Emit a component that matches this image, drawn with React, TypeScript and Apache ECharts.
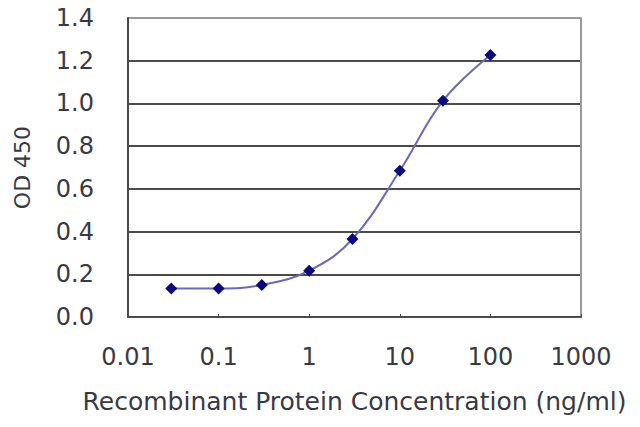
import React, { useEffect, useRef } from "react";
import * as echarts from "echarts";

const concentrations = [0.03, 0.1, 0.3, 1, 3, 10, 30, 100];
const odValues = [0.134, 0.134, 0.15, 0.217, 0.365, 0.685, 1.013, 1.227];
const xTickLabels = ["0.01", "0.1", "1", "10", "100", "1000"];
const yTickLabels = ["0.0", "0.2", "0.4", "0.6", "0.8", "1.0", "1.2", "1.4"];

const FONT = "DejaVu Sans";
const TEXT = "#3a3a44";

export default function App() {
  const ref = useRef<HTMLDivElement>(null);
  useEffect(() => {
    document.body.style.margin = "0";
    const chart = echarts.init(ref.current!, undefined, { renderer: "svg" });
    const gridColors = ["#4a4a4a", "#4a4a4a", "#4a4a4a", "#4a4a4a", "#4a4a4a", "#4a4a4a", "#4a4a4a", "#999"];
    chart.setOption({
      animation: false,
      backgroundColor: "#fff",
      grid: { left: 128, right: 59, top: 18, bottom: 110, outerBoundsMode: "none" },
      xAxis: {
        type: "log",
        logBase: 10,
        min: 0.01,
        max: 1000,
        name: "Recombinant Protein Concentration (ng/ml)",
        nameLocation: "middle",
        nameGap: 72,
        nameTextStyle: { fontFamily: FONT, fontSize: 25, color: TEXT },
        axisLine: { lineStyle: { color: "#4a4a4a", width: 2 } },
        axisTick: { show: true, inside: true, length: 3, lineStyle: { color: "#4a4a4a" } },
        axisLabel: {
          fontFamily: FONT,
          fontSize: 24,
          color: TEXT,
          margin: 28,
          formatter: (v: number) => {
            const i = Math.round(Math.log10(v)) + 2;
            return xTickLabels[i] ?? "";
          },
        },
        splitLine: { show: false },
        minorTick: { show: false },
      },
      yAxis: [
        {
          type: "value",
          min: 0,
          max: 1.4,
          interval: 0.2,
          name: "OD 450",
          nameLocation: "middle",
          nameGap: 95,
          nameTextStyle: { fontFamily: FONT, fontSize: 22, color: TEXT },
          axisLine: { show: true, lineStyle: { color: "#4a4a4a", width: 2 } },
          axisTick: { show: false },
          axisLabel: {
            fontFamily: FONT,
            fontSize: 24,
            color: TEXT,
            margin: 34,
            formatter: (v: number) => yTickLabels[Math.round(v / 0.2)] ?? "",
          },
          splitLine: { show: true, lineStyle: { color: gridColors, width: 2 } },
        },
        {
          type: "value",
          min: 0,
          max: 1.4,
          interval: 0.2,
          position: "right",
          axisLine: { show: true, lineStyle: { color: "#999", width: 2 } },
          axisTick: { show: false },
          axisLabel: { show: false },
          splitLine: { show: false },
        },
      ],
      series: [
        {
          type: "line",
          data: concentrations.map((c, i) => [c, odValues[i]]),
          smooth: 0.4,
          symbol: "diamond",
          symbolSize: 12,
          itemStyle: { color: "#0a0a80" },
          lineStyle: { color: "#6a6ab8", width: 2 },
        },
      ],
    });
    return () => chart.dispose();
  }, []);
  return (
    <div
      ref={ref}
      style={{ width: 640, height: 427, position: "absolute", left: 0, top: 0 }}
    />
  );
}
